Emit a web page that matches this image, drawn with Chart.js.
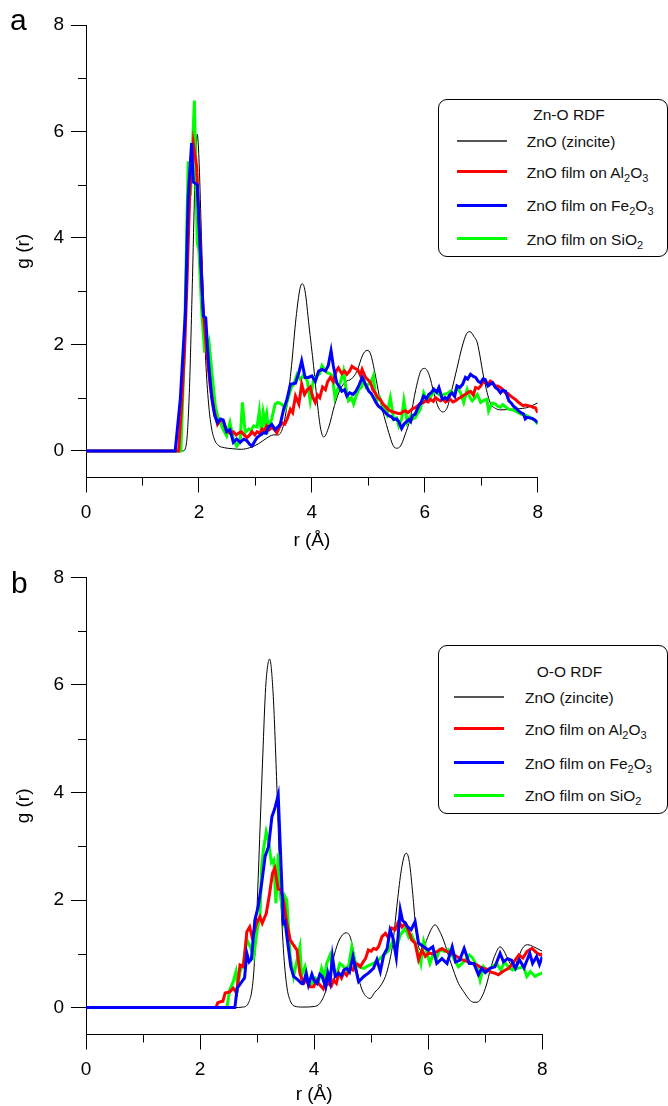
<!DOCTYPE html>
<html>
<head>
<meta charset="utf-8">
<script src="https://cdn.jsdelivr.net/npm/chart.js@4.4.1/dist/chart.umd.min.js"></script>
<style>
  body { margin: 0; width: 668px; height: 1106px; background: #fff; position: relative; overflow: hidden;
         font-family: Arial, "Liberation Sans", sans-serif; color: #000; }
  .panel { position: absolute; left: 0; width: 668px; height: 553px; }
  .tag { position: absolute; font-size: 30px; line-height: 30px; }
  .legend { position: absolute; border: 1px solid #000; border-radius: 9px; background: #fff;
            box-sizing: border-box; font-size: 15.5px; color: #111; }
  .legend .ttl { position: absolute; white-space: nowrap; transform: translate(-50%, -50%); }
  .legend .swatch { position: absolute; width: 50px; }
  .legend .txt { position: absolute; white-space: nowrap; line-height: 18px; transform: translateY(-50%); }
  sub { font-size: 11px; vertical-align: -4px; line-height: 0; }
</style>
</head>
<body>
<div class="panel" style="top:0"><canvas id="chartA" width="668" height="553"></canvas></div>
<div class="panel" style="top:553px"><canvas id="chartB" width="668" height="553"></canvas></div>
<div class="tag" style="left:10px;top:5px">a</div>
<div class="tag" style="left:11px;top:568px">b</div>
<div class="legend" id="legendA" style="left:438px;top:99px;width:230px;height:158px"></div>
<div class="legend" id="legendB" style="left:438px;top:645px;width:230px;height:169px"></div>
<script>
const seriesNames = ["ZnO (zincite)", "ZnO film on Al2O3", "ZnO film on Fe2O3", "ZnO film on SiO2"];
const seriesColors = ["#000000", "#ff0000", "#0000ff", "#00ff00"];
const legendColors = ["#555555", "#ff0000", "#0000ff", "#00ff00"];
const majorTicks = [0, 2, 4, 6, 8];
const minorTicks = [1, 3, 5, 7];

// panel a : Zn-O RDF, [r, g(r)]
const znoZincite = [[0,0],[1.6,0],[1.72,0],[1.78,0.15],[1.83,1.1],[1.88,3.0],[1.93,5.1],[1.97,5.95],[2.0,5.5],[2.04,4.2],[2.08,2.8],[2.12,1.7],[2.17,0.9],[2.22,0.45],[2.28,0.2],[2.35,0.1],[2.45,0.06],[2.6,0.04],[2.75,0.03],[2.9,0.06],[3.05,0.13],[3.2,0.24],[3.32,0.3],[3.4,0.3],[3.48,0.42],[3.56,0.85],[3.64,1.6],[3.72,2.5],[3.79,3.05],[3.83,3.14],[3.88,3.0],[3.95,2.35],[4.03,1.6],[4.09,0.97],[4.15,0.45],[4.21,0.26],[4.3,0.45],[4.4,0.85],[4.5,1.15],[4.6,1.3],[4.7,1.35],[4.8,1.5],[4.9,1.8],[4.98,1.89],[5.04,1.82],[5.12,1.45],[5.2,1.0],[5.28,0.65],[5.36,0.35],[5.44,0.1],[5.5,0.05],[5.57,0.09],[5.65,0.3],[5.74,0.6],[5.84,1.15],[5.93,1.5],[6.0,1.55],[6.08,1.42],[6.16,1.09],[6.24,0.82],[6.32,0.73],[6.4,0.82],[6.48,1.15],[6.57,1.55],[6.66,1.95],[6.74,2.2],[6.8,2.24],[6.87,2.15],[6.93,2.03],[7.05,1.35],[7.16,0.9],[7.25,0.8],[7.35,0.77],[7.5,0.78],[7.65,0.79],[7.8,0.81],[7.9,0.85],[8.0,0.9]];
const znoAl2O3 = [[0,0],[1.64,0],[1.7,0.97],[1.75,2.0],[1.79,3.22],[1.84,4.9],[1.9,5.78],[1.96,5.34],[2.01,4.16],[2.07,2.72],[2.14,1.84],[2.2,1.22],[2.27,0.75],[2.33,0.5],[2.38,0.58],[2.43,0.56],[2.49,0.38],[2.55,0.33],[2.61,0.36],[2.66,0.3],[2.7,0.33],[2.75,0.36],[2.79,0.31],[2.85,0.25],[2.9,0.3],[2.94,0.36],[2.99,0.3],[3.03,0.36],[3.08,0.33],[3.12,0.41],[3.16,0.38],[3.2,0.47],[3.25,0.4],[3.29,0.44],[3.34,0.4],[3.38,0.34],[3.43,0.45],[3.47,0.53],[3.52,0.5],[3.56,0.59],[3.62,0.78],[3.66,0.72],[3.71,1.03],[3.77,0.88],[3.82,1.25],[3.87,1.06],[3.92,1.15],[3.97,1.2],[4.02,1.0],[4.06,0.91],[4.1,1.05],[4.14,1.0],[4.19,1.2],[4.24,1.15],[4.28,1.3],[4.33,1.38],[4.38,1.3],[4.43,1.5],[4.47,1.56],[4.53,1.45],[4.58,1.5],[4.62,1.44],[4.67,1.5],[4.71,1.59],[4.76,1.55],[4.81,1.53],[4.86,1.42],[4.89,1.53],[4.95,1.38],[5.0,1.33],[5.04,1.28],[5.08,1.15],[5.12,1.09],[5.17,1.0],[5.21,0.97],[5.26,0.88],[5.3,0.84],[5.35,0.78],[5.39,0.75],[5.44,0.73],[5.48,0.72],[5.53,0.7],[5.57,0.7],[5.62,0.74],[5.66,0.75],[5.7,0.72],[5.74,0.75],[5.79,0.8],[5.83,0.81],[5.88,0.85],[5.92,0.89],[5.97,0.9],[6.01,0.94],[6.06,0.92],[6.1,0.97],[6.15,0.93],[6.19,1.0],[6.24,0.96],[6.28,0.94],[6.33,0.97],[6.37,0.92],[6.41,0.95],[6.45,0.97],[6.5,0.92],[6.54,0.94],[6.59,0.98],[6.63,1.0],[6.68,1.04],[6.72,1.06],[6.77,1.1],[6.81,1.12],[6.86,1.05],[6.9,1.19],[6.95,1.17],[6.99,1.22],[7.03,1.3],[7.07,1.28],[7.12,1.25],[7.16,1.31],[7.2,1.28],[7.25,1.22],[7.29,1.22],[7.34,1.19],[7.38,1.15],[7.43,1.09],[7.47,1.08],[7.52,1.03],[7.56,1.0],[7.6,0.97],[7.65,0.92],[7.7,0.88],[7.74,0.85],[7.78,0.86],[7.83,0.85],[7.87,0.84],[7.92,0.82],[7.96,0.81],[8.0,0.72]];
const znoFe2O3 = [[0,0],[1.58,0],[1.67,0.97],[1.76,2.6],[1.81,4.78],[1.87,5.78],[1.9,5.05],[1.97,5.0],[2.02,3.84],[2.08,2.53],[2.12,2.5],[2.17,1.66],[2.23,0.97],[2.28,0.66],[2.33,0.53],[2.38,0.6],[2.43,0.58],[2.49,0.36],[2.55,0.4],[2.61,0.16],[2.67,0.22],[2.73,0.16],[2.79,0.22],[2.85,0.19],[2.9,0.12],[2.94,0.09],[3.0,0.2],[3.03,0.25],[3.09,0.3],[3.14,0.34],[3.19,0.33],[3.23,0.44],[3.29,0.5],[3.35,0.4],[3.4,0.45],[3.44,0.5],[3.5,0.78],[3.56,0.97],[3.62,1.25],[3.71,1.27],[3.77,1.47],[3.82,1.69],[3.88,1.38],[3.94,1.38],[4.0,1.41],[4.06,1.3],[4.12,1.5],[4.18,1.53],[4.24,1.5],[4.29,1.6],[4.34,1.88],[4.38,1.6],[4.44,1.28],[4.49,1.2],[4.53,1.12],[4.58,1.15],[4.62,1.03],[4.67,1.09],[4.73,1.06],[4.78,1.12],[4.83,1.22],[4.89,1.38],[4.95,1.25],[5.01,1.12],[5.05,1.08],[5.09,1.0],[5.14,0.9],[5.18,0.84],[5.23,0.8],[5.27,0.75],[5.32,0.7],[5.36,0.66],[5.41,0.64],[5.45,0.59],[5.5,0.6],[5.54,0.55],[5.59,0.42],[5.63,0.5],[5.66,0.53],[5.72,0.59],[5.75,0.55],[5.78,0.66],[5.83,0.69],[5.89,0.84],[5.93,0.9],[5.98,1.03],[6.03,0.98],[6.07,1.06],[6.12,1.1],[6.16,1.16],[6.21,1.1],[6.25,1.19],[6.31,0.97],[6.36,1.0],[6.4,0.97],[6.44,1.05],[6.48,1.09],[6.53,1.02],[6.57,1.22],[6.62,1.19],[6.67,1.25],[6.72,1.38],[6.76,1.35],[6.81,1.44],[6.86,1.4],[6.9,1.38],[6.95,1.3],[6.99,1.28],[7.03,1.35],[7.07,1.34],[7.12,1.22],[7.16,1.25],[7.2,1.28],[7.25,1.19],[7.3,1.15],[7.34,1.09],[7.38,1.14],[7.43,1.12],[7.49,0.94],[7.53,0.9],[7.57,0.84],[7.62,0.8],[7.66,0.75],[7.7,0.72],[7.75,0.69],[7.78,0.6],[7.81,0.63],[7.86,0.62],[7.9,0.61],[7.95,0.58],[8.0,0.53]];
const znoSiO2 = [[0,0],[1.68,0],[1.74,1.8],[1.78,3.9],[1.81,5.44],[1.85,4.8],[1.92,6.58],[1.97,3.91],[2.0,3.78],[2.05,2.6],[2.1,1.88],[2.15,1.9],[2.18,2.03],[2.23,1.47],[2.29,0.84],[2.34,0.62],[2.38,0.53],[2.43,0.4],[2.49,0.28],[2.55,0.53],[2.61,0.22],[2.67,0.09],[2.73,0.19],[2.77,0.91],[2.82,0.34],[2.88,0.41],[2.92,0.38],[2.97,0.47],[3.03,0.45],[3.07,0.75],[3.11,0.28],[3.14,0.72],[3.17,0.55],[3.2,0.7],[3.23,0.41],[3.29,0.6],[3.35,0.88],[3.4,0.91],[3.46,0.88],[3.53,0.8],[3.59,1.03],[3.64,1.2],[3.68,1.25],[3.74,1.44],[3.8,1.34],[3.86,1.44],[3.92,1.31],[3.97,0.94],[4.03,1.35],[4.09,1.41],[4.14,1.45],[4.18,1.6],[4.23,1.52],[4.27,1.47],[4.32,1.45],[4.36,1.41],[4.41,1.0],[4.47,1.2],[4.51,1.3],[4.56,1.5],[4.6,1.2],[4.65,0.94],[4.7,1.0],[4.74,0.88],[4.79,1.05],[4.83,1.15],[4.88,1.2],[4.92,1.34],[4.96,1.2],[5.0,1.25],[5.05,1.3],[5.09,1.41],[5.12,1.1],[5.15,0.94],[5.2,1.0],[5.24,0.88],[5.29,0.8],[5.33,0.69],[5.39,1.0],[5.45,0.59],[5.5,0.62],[5.54,0.47],[5.59,0.6],[5.63,0.94],[5.69,0.53],[5.75,0.66],[5.79,0.6],[5.83,0.62],[5.87,0.7],[5.92,0.78],[5.98,1.09],[6.04,0.95],[6.09,1.0],[6.14,1.08],[6.2,1.12],[6.26,1.05],[6.34,1.06],[6.4,1.08],[6.45,1.12],[6.51,1.05],[6.57,1.19],[6.63,1.1],[6.69,0.91],[6.75,1.15],[6.8,1.0],[6.84,0.94],[6.89,1.0],[6.93,1.06],[6.99,0.91],[7.05,0.95],[7.1,0.97],[7.13,0.75],[7.17,0.85],[7.2,0.9],[7.25,0.88],[7.29,0.84],[7.34,0.82],[7.38,0.87],[7.44,0.82],[7.49,0.78],[7.55,0.77],[7.6,0.75],[7.65,0.72],[7.7,0.69],[7.76,0.68],[7.81,0.66],[7.87,0.62],[7.93,0.59],[7.97,0.55],[8.0,0.5]];

// panel b : O-O RDF, [r, g(r)]
const ooZincite = [[0,0],[2.6,0],[2.75,0.01],[2.85,0.09],[2.94,0.64],[3.0,1.9],[3.05,3.3],[3.1,4.7],[3.15,5.95],[3.22,6.48],[3.28,5.85],[3.34,4.3],[3.4,2.4],[3.46,1.1],[3.52,0.4],[3.58,0.13],[3.65,0.03],[3.8,0.01],[4.0,0.02],[4.1,0.08],[4.2,0.3],[4.3,0.75],[4.4,1.15],[4.48,1.33],[4.56,1.39],[4.63,1.32],[4.7,1.0],[4.77,0.6],[4.84,0.33],[4.92,0.2],[4.98,0.17],[5.06,0.28],[5.16,0.4],[5.25,0.58],[5.32,0.85],[5.38,1.2],[5.45,1.88],[5.52,2.5],[5.58,2.82],[5.62,2.87],[5.67,2.7],[5.73,2.1],[5.78,1.5],[5.84,1.1],[5.9,1.05],[5.97,1.25],[6.05,1.45],[6.12,1.54],[6.2,1.42],[6.28,1.22],[6.36,0.95],[6.44,0.7],[6.53,0.45],[6.62,0.3],[6.72,0.15],[6.8,0.1],[6.86,0.1],[6.94,0.2],[7.02,0.42],[7.1,0.75],[7.18,1.0],[7.26,1.13],[7.33,1.05],[7.42,0.85],[7.5,0.74],[7.57,0.9],[7.65,1.1],[7.74,1.17],[7.85,1.13],[7.96,1.07],[8.0,1.05]];
const ooAl2O3 = [[0,0],[2.28,0],[2.31,0.09],[2.36,0.11],[2.4,0.12],[2.44,0.27],[2.48,0.28],[2.52,0.29],[2.58,0.36],[2.64,0.27],[2.7,0.79],[2.76,0.76],[2.82,1.41],[2.87,1.5],[2.91,1.32],[2.96,1.45],[2.99,1.57],[3.05,1.69],[3.09,1.57],[3.16,1.75],[3.22,2.13],[3.27,2.5],[3.31,2.59],[3.37,2.2],[3.42,2.19],[3.47,1.95],[3.52,1.57],[3.58,1.26],[3.64,1.16],[3.7,1.07],[3.75,0.64],[3.81,0.45],[3.86,0.5],[3.93,0.39],[3.99,0.39],[4.04,0.5],[4.1,0.42],[4.16,0.35],[4.21,0.52],[4.25,0.45],[4.3,0.4],[4.34,0.51],[4.39,0.45],[4.43,0.64],[4.48,0.55],[4.52,0.66],[4.57,0.6],[4.63,0.73],[4.68,0.7],[4.72,0.82],[4.77,0.8],[4.81,0.76],[4.86,0.85],[4.9,0.91],[4.95,1.07],[5.0,1.05],[5.04,1.1],[5.09,1.08],[5.13,1.13],[5.19,1.32],[5.25,1.38],[5.3,1.3],[5.36,1.48],[5.42,1.45],[5.48,1.6],[5.54,1.5],[5.6,1.57],[5.65,1.45],[5.71,1.26],[5.77,1.2],[5.83,0.89],[5.89,1.07],[5.95,0.95],[6.01,1.02],[6.07,1.0],[6.15,1.04],[6.24,1.1],[6.33,1.04],[6.42,1.0],[6.5,0.95],[6.59,0.89],[6.68,0.86],[6.77,0.82],[6.86,0.79],[6.94,0.73],[7.02,0.72],[7.1,0.66],[7.17,0.64],[7.23,0.61],[7.32,0.68],[7.41,0.73],[7.5,0.85],[7.59,0.98],[7.66,0.92],[7.73,1.04],[7.82,1.1],[7.89,1.03],[7.96,0.98],[8.0,1.0]];
const ooFe2O3 = [[0,0],[2.61,0],[2.65,0.36],[2.73,0.48],[2.78,0.55],[2.82,1.01],[2.86,0.85],[2.9,0.9],[2.96,1.63],[3.02,1.88],[3.08,2.31],[3.14,2.81],[3.2,2.99],[3.26,3.55],[3.31,3.7],[3.37,3.95],[3.46,1.57],[3.49,1.6],[3.53,1.26],[3.59,0.76],[3.64,0.58],[3.72,0.51],[3.78,0.45],[3.81,0.45],[3.86,0.64],[3.9,0.42],[3.96,0.62],[4.0,0.5],[4.05,0.45],[4.1,0.62],[4.14,0.58],[4.2,0.39],[4.24,0.64],[4.28,0.48],[4.32,0.95],[4.37,0.58],[4.43,0.64],[4.48,0.6],[4.52,0.7],[4.57,0.73],[4.62,0.66],[4.68,0.95],[4.72,0.75],[4.78,0.48],[4.87,0.58],[4.95,0.64],[5.04,0.73],[5.1,0.89],[5.16,0.67],[5.22,0.98],[5.28,1.1],[5.33,1.44],[5.38,1.3],[5.44,0.93],[5.51,1.82],[5.55,1.62],[5.6,1.57],[5.64,1.5],[5.7,1.45],[5.77,1.6],[5.83,1.2],[5.92,1.13],[6.0,1.07],[6.08,1.13],[6.15,0.82],[6.24,0.91],[6.33,0.82],[6.42,1.13],[6.48,0.85],[6.55,0.88],[6.63,1.1],[6.72,0.82],[6.8,0.82],[6.88,0.61],[6.94,0.73],[7.0,0.65],[7.08,0.73],[7.17,0.76],[7.26,1.01],[7.32,0.85],[7.39,0.91],[7.46,0.88],[7.53,0.73],[7.6,0.89],[7.68,0.74],[7.78,1.01],[7.83,0.82],[7.9,0.95],[7.95,0.8],[8.0,0.95]];
const ooSiO2 = [[0,0],[2.47,0],[2.52,0.33],[2.58,0.48],[2.63,0.67],[2.66,0.39],[2.7,0.67],[2.76,0.82],[2.82,1.26],[2.88,1.13],[2.94,0.95],[3.0,1.44],[3.05,1.69],[3.08,2.62],[3.11,2.93],[3.16,3.27],[3.2,3.1],[3.25,2.7],[3.29,2.75],[3.33,1.94],[3.37,2.87],[3.41,2.07],[3.46,1.69],[3.49,2.06],[3.52,2.0],[3.58,0.95],[3.64,0.58],[3.7,0.88],[3.75,1.13],[3.78,0.6],[3.84,0.76],[3.9,0.45],[3.96,0.45],[4.02,0.55],[4.08,0.5],[4.13,0.73],[4.18,0.55],[4.22,0.82],[4.28,0.98],[4.33,0.73],[4.39,0.6],[4.45,0.82],[4.5,0.78],[4.56,0.7],[4.61,0.8],[4.66,1.13],[4.72,0.85],[4.78,0.76],[4.87,0.73],[4.95,0.78],[5.04,0.82],[5.13,0.89],[5.22,0.98],[5.3,1.05],[5.39,1.26],[5.45,1.13],[5.51,1.35],[5.6,1.48],[5.66,1.3],[5.71,1.35],[5.77,1.2],[5.83,1.0],[5.87,0.82],[5.92,1.23],[5.97,1.05],[6.03,0.82],[6.09,1.0],[6.14,0.9],[6.2,1.08],[6.29,1.04],[6.35,1.08],[6.43,0.95],[6.53,0.76],[6.62,0.85],[6.72,0.98],[6.78,0.92],[6.86,0.76],[6.91,0.51],[6.97,0.76],[7.03,0.67],[7.12,0.76],[7.2,0.82],[7.27,0.7],[7.34,0.85],[7.4,0.76],[7.48,0.7],[7.56,0.73],[7.67,0.76],[7.73,0.58],[7.79,0.67],[7.87,0.58],[7.94,0.62],[8.0,0.64]];

const fontFamily = 'Arial, "Liberation Sans", sans-serif';

const minorTickPlugin = {
  id: "minorTickPlugin",
  afterDraw(chart) {
    const ctx = chart.ctx;
    const area = chart.chartArea;
    ctx.save();
    ctx.strokeStyle = "#000";
    ctx.lineWidth = 1;
    ctx.beginPath();
    minorTicks.forEach(function (v) {
      const px = Math.round(chart.scales.x.getPixelForValue(v)) + 0.5;
      ctx.moveTo(px, area.bottom);
      ctx.lineTo(px, area.bottom + 8);
      const py = Math.round(chart.scales.y.getPixelForValue(v)) + 0.5;
      ctx.moveTo(area.left - 8, py);
      ctx.lineTo(area.left, py);
    });
    ctx.stroke();
    ctx.restore();
  },
};

function drawPanel(canvasId, series, box) {
  return new Chart(document.getElementById(canvasId), {
    type: "line",
    data: {
      datasets: series.map(function (s, i) {
        return {
          label: seriesNames[i],
          data: s.map(function (p) { return { x: p[0], y: p[1] }; }),
          borderColor: seriesColors[i],
          backgroundColor: seriesColors[i],
          borderWidth: i === 0 ? 1 : 3,
          pointRadius: 0,
          fill: false,
          tension: 0,
          cubicInterpolationMode: i === 0 ? "monotone" : "default",
          order: [4, 2, 1, 3][i],
        };
      }),
    },
    options: {
      responsive: false,
      animation: false,
      layout: { padding: { left: 0, top: box.top, right: box.right, bottom: 0 } },
      plugins: { legend: { display: false }, tooltip: { enabled: false } },
      scales: {
        x: {
          type: "linear",
          min: 0,
          max: 8,
          afterBuildTicks: function (s) { s.ticks = majorTicks.map(function (v) { return { value: v }; }); },
          afterFit: function (s) { s.height = box.xh; },
          grid: { drawOnChartArea: false, tickLength: 15, tickColor: "#000" },
          border: { color: "#000", width: 1 },
          ticks: { color: "#000", padding: 9, maxRotation: 0, font: { family: fontFamily, size: 19 } },
          title: { display: true, text: "r (Å)", color: "#000", padding: { top: 0, bottom: box.titlePad },
                   font: { family: fontFamily, size: 19 } },
        },
        y: {
          type: "linear",
          min: -0.5,
          max: 8,
          afterBuildTicks: function (s) { s.ticks = majorTicks.map(function (v) { return { value: v }; }); },
          afterFit: function (s) { s.width = 86; },
          grid: { drawOnChartArea: false, tickLength: 15, tickColor: "#000" },
          border: { color: "#000", width: 1 },
          ticks: { color: "#000", padding: 7, font: { family: fontFamily, size: 19 } },
          title: { display: true, text: "g (r)", color: "#000", padding: { top: 12.6, bottom: 0 },
                   font: { family: fontFamily, size: 19 } },
        },
      },
    },
    plugins: [minorTickPlugin],
  });
}

function buildLegend(el, title, layout) {
  const ttl = document.createElement("div");
  ttl.className = "ttl";
  ttl.style.left = layout.titleX + "px";
  ttl.style.top = layout.titleY + "px";
  ttl.textContent = title;
  el.appendChild(ttl);
  seriesNames.forEach(function (name, i) {
    const sw = document.createElement("div");
    sw.className = "swatch";
    const h = i === 0 ? 2 : 3;
    sw.style.height = h + "px";
    sw.style.left = layout.lineLeft + "px";
    sw.style.top = layout.rows[i] - h / 2 + "px";
    sw.style.background = legendColors[i];
    el.appendChild(sw);
    const tx = document.createElement("div");
    tx.className = "txt";
    tx.style.left = layout.textLeft + "px";
    tx.style.top = layout.rows[i] + 1 + "px";
    tx.innerHTML = name.replace(/([A-Za-z])(\d)/g, "$1<sub>$2</sub>");
    el.appendChild(tx);
  });
}

drawPanel("chartA", [znoZincite, znoAl2O3, znoFe2O3, znoSiO2], { top: 25, right: 130.3, xh: 75.5, titlePad: 1 });
drawPanel("chartB", [ooZincite, ooAl2O3, ooFe2O3, ooSiO2], { top: 24.3, right: 125.7, xh: 71.5, titlePad: 0 });

buildLegend(document.getElementById("legendA"), "Zn-O RDF",
  { titleX: 130, titleY: 15, lineLeft: 17.7, textLeft: 87.7, rows: [41, 71.7, 105.3, 138.7] });
buildLegend(document.getElementById("legendB"), "O-O RDF",
  { titleX: 130.5, titleY: 25.7, lineLeft: 15, textLeft: 86, rows: [50.7, 82.7, 116.7, 149.3] });
</script>
</body>
</html>
